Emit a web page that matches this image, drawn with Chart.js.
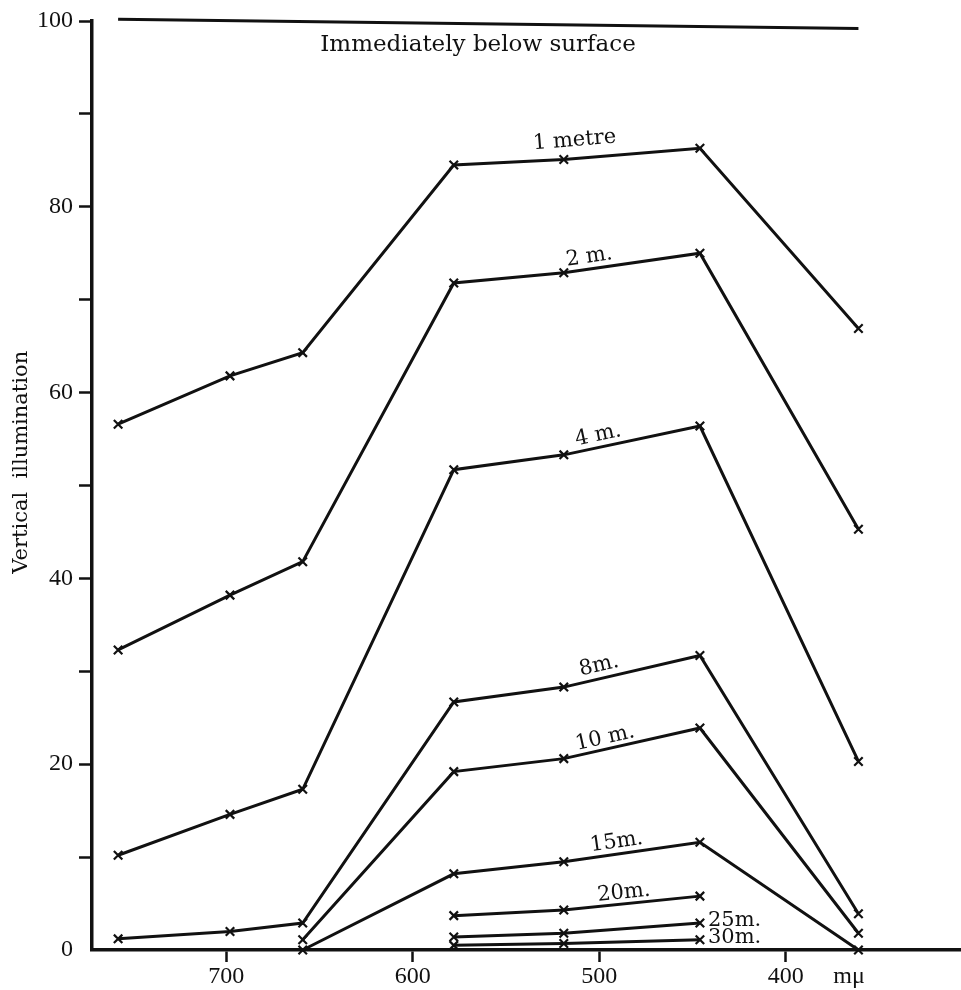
<!DOCTYPE html>
<html>
<head>
<meta charset="utf-8">
<script src="https://cdn.jsdelivr.net/npm/chart.js@4.4.1/dist/chart.umd.min.js"></script>
<style>
    html, body { margin: 0; padding: 0; background: #fff; overflow: hidden; }
    canvas { display: block; }
</style>
</head>
<body>
<canvas id="lightChart" width="961" height="990"></canvas>
<script>
// filter wavelengths in m\u03bc
let wavelengths = [758, 698, 659, 578, 519, 446, 361];

// illumination just below the surface
let surfaceWl = [758, 361];
let surfaceVals = [100.2, 99.2];

// vertical illumination at each depth (null = not measured)
let depth1 = [56.6, 61.8, 64.3, 84.5, 85.1, 86.3, 66.9];
let depth2 = [32.3, 38.2, 41.8, 71.8, 72.9, 75.0, 45.3];
let depth4 = [10.2, 14.6, 17.3, 51.7, 53.3, 56.4, 20.3];
let depth8 = [1.2, 2.0, 2.9, 26.7, 28.3, 31.7, 3.9];
let depth10 = [null, null, 1.1, 19.2, 20.6, 23.9, 1.8];
let depth15 = [null, null, 0, 8.2, 9.5, 11.6, 0];
let depth20 = [null, null, null, 3.7, 4.3, 5.8, null];
let depth25 = [null, null, null, 1.4, 1.8, 2.9, null];
let depth30 = [null, null, null, 0.5, 0.7, 1.1, null];

let depthNames = ["1 metre", "2 m.", "4 m.", "8m.", "10 m.", "15m.", "20m.", "25m.", "30m."];
let depthSeries = [depth1, depth2, depth4, depth8, depth10, depth15, depth20, depth25, depth30];

let xTickValues = [700, 600, 500, 400, 366];
let xTickLabels = ["700", "600", "500", "400", "m\u03bc"];

// where each depth name sits: segment start index, fraction along it, pixel offsets
let labelSpots = [
    { seg: 4, t: 0.09, dx: 0, dy: -18 },
    { seg: 4, t: 0.2, dx: 0, dy: -12 },
    { seg: 4, t: 0.27, dx: 0, dy: -12 },
    { seg: 4, t: 0.28, dx: 0, dy: -13 },
    { seg: 4, t: 0.32, dx: 0, dy: -11 },
    { seg: 4, t: 0.4, dx: 0, dy: -12 },
    { seg: 4, t: 0.45, dx: 0, dy: -11 },
    { seg: 5, t: 0, dx: 8, dy: -3, left: true },
    { seg: 5, t: 0, dx: 8, dy: -2, left: true }
];

const INK = "#111";
const SERIF = "'DejaVu Serif', 'Liberation Serif', serif";
const TICKFONT = "'Liberation Serif', 'DejaVu Serif', serif";

function toPoints(vals) {
    let pts = [];
    vals.forEach((v, i) => {
        if (v !== null) pts.push({ x: wavelengths[i], y: v });
    });
    return pts;
}

let datasets = depthSeries.map((vals, k) => ({
    label: depthNames[k],
    data: toPoints(vals),
    borderColor: INK,
    borderWidth: 3,
    pointStyle: "crossRot",
    pointRadius: 6,
    pointBorderWidth: 2.2,
    pointBorderColor: INK,
    pointBackgroundColor: INK,
    fill: false,
    tension: 0,
    clip: false
}));

datasets.unshift({
    label: "Immediately below surface",
    data: surfaceWl.map((w, i) => ({ x: w, y: surfaceVals[i] })),
    borderColor: INK,
    borderWidth: 3,
    pointRadius: 0,
    fill: false,
    clip: false
});

const textPlugin = {
    id: "textPlugin",
    afterDatasetsDraw(chart) {
        const ctx = chart.ctx;
        const xs = chart.scales.x;
        const ys = chart.scales.y;
        ctx.save();
        ctx.fillStyle = INK;

        // depth names along the lines
        ctx.font = "21px " + SERIF;
        ctx.textBaseline = "middle";
        depthSeries.forEach((vals, k) => {
            const s = labelSpots[k];
            const x1 = xs.getPixelForValue(wavelengths[s.seg]);
            const y1 = ys.getPixelForValue(vals[s.seg]);
            let px = x1, py = y1, ang = 0;
            if (!s.left) {
                const x2 = xs.getPixelForValue(wavelengths[s.seg + 1]);
                const y2 = ys.getPixelForValue(vals[s.seg + 1]);
                px = x1 + (x2 - x1) * s.t;
                py = y1 + (y2 - y1) * s.t;
                ang = Math.atan2(y2 - y1, x2 - x1);
            }
            ctx.save();
            ctx.translate(px, py);
            ctx.rotate(ang);
            ctx.textAlign = s.left ? "left" : "center";
            ctx.fillText(depthNames[k], s.dx, s.dy);
            ctx.restore();
        });

        // surface caption under the top line
        ctx.font = "23px " + SERIF;
        ctx.textAlign = "center";
        const sy = ys.getPixelForValue((surfaceVals[0] + surfaceVals[1]) / 2);
        ctx.fillText("Immediately below surface", xs.getPixelForValue(565), sy + 21);

        // y axis title
        ctx.font = "21px " + SERIF;
        ctx.translate(22, ys.getPixelForValue(52.5));
        ctx.rotate(-Math.PI / 2);
        ctx.textAlign = "center";
        ctx.fillText("Vertical  illumination", 0, 0);
        ctx.restore();
    }
};

let ctx = document.getElementById("lightChart").getContext("2d");
new Chart(ctx, {
    type: "line",
    data: { datasets: datasets },
    options: {
        responsive: false,
        animation: false,
        layout: { autoPadding: false, padding: { top: 21, right: 0, bottom: 0, left: 0 } },
        plugins: {
            legend: { display: false },
            tooltip: { enabled: false }
        },
        scales: {
            x: {
                type: "linear",
                reverse: true,
                min: 306,
                max: 772,
                afterBuildTicks: s => { s.ticks = xTickValues.map(v => ({ value: v })); },
                afterFit: s => { s.height = 40; },
                ticks: {
                    autoSkip: false,
                    maxRotation: 0,
                    padding: 0,
                    color: INK,
                    font: { family: TICKFONT, size: 24 },
                    callback: (v, i) => xTickLabels[i]
                },
                grid: {
                    drawOnChartArea: false,
                    tickLength: 12,
                    tickWidth: 2.5,
                    tickColor: c => (c.tick && c.tick.value === 366) ? "rgba(0,0,0,0)" : INK
                },
                border: { color: INK, width: 3.5 }
            },
            y: {
                min: 0,
                max: 100,
                afterFit: s => { s.width = 92; },
                ticks: {
                    stepSize: 10,
                    padding: 6,
                    color: INK,
                    font: { family: TICKFONT, size: 24 },
                    callback: v => (v % 20 === 0 ? v : "")
                },
                grid: {
                    drawOnChartArea: false,
                    tickLength: 13,
                    tickWidth: 2.5,
                    tickColor: c => (c.tick && c.tick.value === 0) ? "rgba(0,0,0,0)" : INK
                },
                border: { color: INK, width: 3.5 }
            }
        }
    },
    plugins: [textPlugin]
});
</script>
</body>
</html>
